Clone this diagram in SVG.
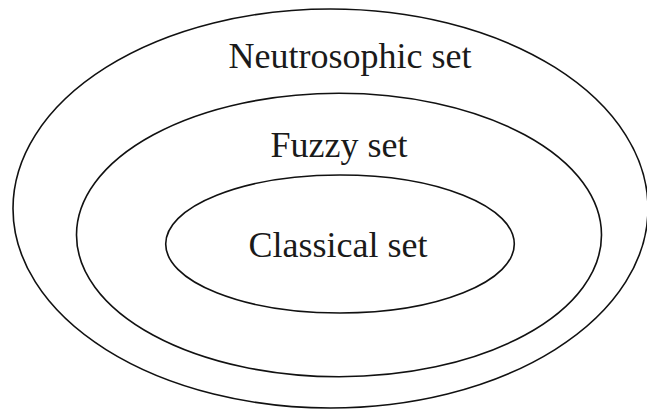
<svg xmlns="http://www.w3.org/2000/svg" width="647" height="409" viewBox="0 0 647 409">
  <style>
    .set { fill: none; stroke: #111; stroke-width: 1.6; }
    .label { font-family: "Liberation Serif", "Times New Roman", serif; font-size: 36px; fill: #1a1a1a; text-anchor: middle; }
  </style>
  <rect width="647" height="409" fill="#fff"/>
  <g id="neutrosophic-set">
    <ellipse class="set" cx="330.5" cy="208.5" rx="317.5" ry="199.5"/>
    <text class="label" x="350" y="68">Neutrosophic set</text>
  </g>
  <g id="fuzzy-set">
    <ellipse class="set" cx="339" cy="235" rx="262.5" ry="141.7"/>
    <text class="label" x="339" y="157">Fuzzy set</text>
  </g>
  <g id="classical-set">
    <ellipse class="set" cx="340" cy="244" rx="174.3" ry="69"/>
    <text class="label" x="338" y="257">Classical set</text>
  </g>
  <g id="connectors"/>
</svg>
